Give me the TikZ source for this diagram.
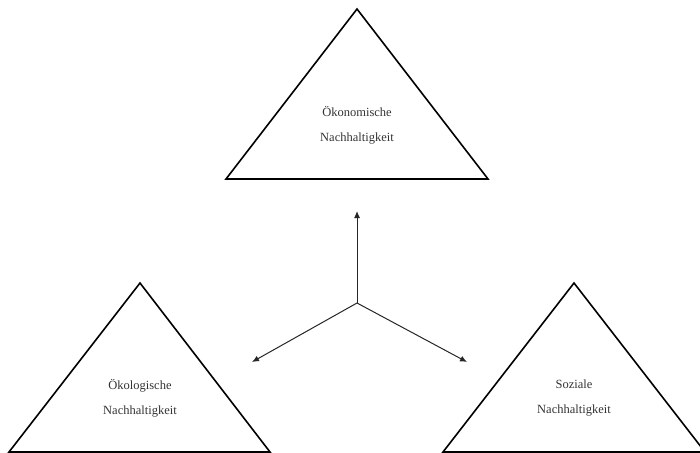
\documentclass[tikz,border=0pt]{standalone}
\usepackage{fontspec}
\setmainfont{Liberation Serif}
\usetikzlibrary{arrows.meta}
\tikzset{
  tri/.style={draw=black, line width=1.6pt, line join=miter},
  lbl/.style={align=center, font=\fontsize{12.5}{25}\selectfont, text=black!80},
  arr/.style={draw=black!85, line width=1pt, -{Latex[length=7pt,width=6pt]}}
}
\begin{document}
\begin{tikzpicture}[x=1pt,y=-1pt]
\useasboundingbox (0,0) rectangle (700,452);
% top triangle
\coordinate (tA) at (357,9);
\coordinate (tL) at (226,179);
\coordinate (tR) at (488,179);
\draw[tri] (tA) -- (tL) -- (tR) -- cycle;
\node[lbl] (oek) at (357,125) {Ökonomische\\Nachhaltigkeit};
% left triangle
\coordinate (lA) at (140,283);
\coordinate (lL) at (9,452);
\coordinate (lR) at (270,452);
\draw[tri] (lA) -- (lL) -- (lR) -- cycle;
\node[lbl] (oeko) at (140,398) {Ökologische\\Nachhaltigkeit};
% right triangle
\coordinate (rA) at (574,283);
\coordinate (rL) at (443,452);
\coordinate (rR) at (705,452);
\draw[tri] (rA) -- (rL) -- (rR) -- cycle;
\node[lbl] (soz) at (574,398) {Soziale\\Nachhaltigkeit};
% arrows
\coordinate (c) at (357,303);
\coordinate (up) at (357,211);
\coordinate (dl) at (252,362);
\coordinate (dr) at (467,362);
\draw[arr] (c) -- (up);
\draw[arr] (c) -- (dl);
\draw[arr] (c) -- (dr);
\end{tikzpicture}
\end{document}
